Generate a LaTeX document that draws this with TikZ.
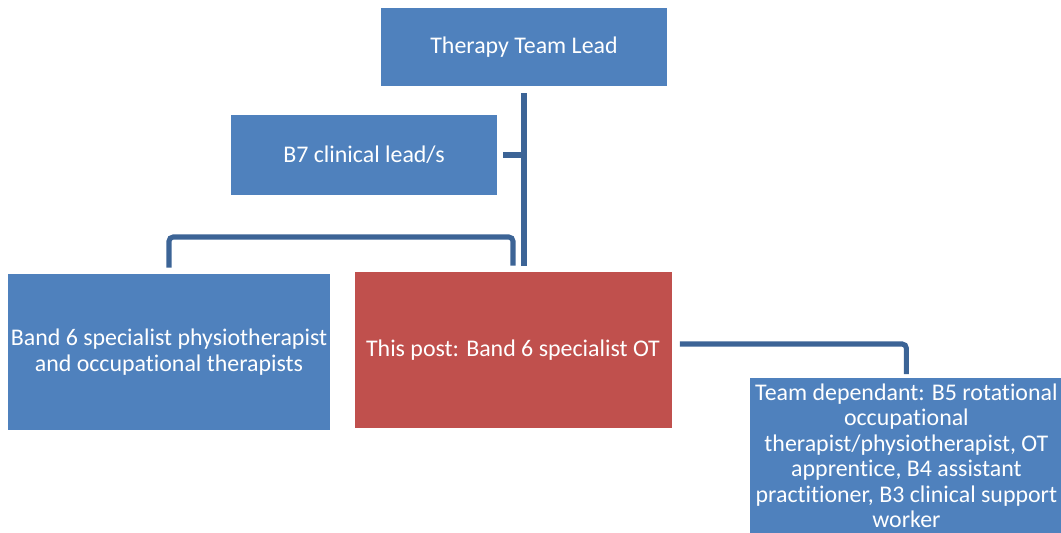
\documentclass[tikz,border=0pt]{standalone}
\usepackage{fontspec}
\setmainfont[Ligatures={NoCommon}]{Carlito}
\definecolor{BoxBlue}{RGB}{79, 129, 189}
\definecolor{BoxRed}{RGB}{192, 80, 77}
\definecolor{LinkBlue}{RGB}{60, 100, 150}
\usetikzlibrary{positioning, calc}

\begin{document}
\begin{tikzpicture}[
        box/.style={rectangle, fill=BoxBlue, text=white, inner sep=2pt, align=center,
            font=\fontsize{17pt}{18.5pt}\selectfont},
        link/.style={draw=LinkBlue, line width=3.6pt}]

        \useasboundingbox (0,0) rectangle (26.525,-13.3);

        % Therapy team lead
        \node[box, minimum width=7.15cm, minimum height=1.95cm] (lead) at (13.1,-1.175) {Therapy Team Lead};

        % Clinical lead
        \node[box, minimum width=6.65cm, minimum height=2cm] (clin) at (9.1,-3.875) {B7 clinical lead/s};

        % Band 6 colleagues
        \node[box, minimum width=7.925cm, minimum height=3.9cm] (band) at (4.225,-8.8) {Band 6 specialist physiotherapist\\and occupational therapists};

        % This post
        \node[box, fill=BoxRed, minimum width=7.925cm, minimum height=3.9cm] (post) at (12.825,-8.75) {This post: Band 6 specialist OT};

        % Team dependant
        \node[box, minimum width=7.825cm, inner ysep=3.8pt, text depth=0.8cm, anchor=north,
            font=\fontsize{17pt}{18.1pt}\selectfont] (team) at (22.66,-9.45) {Team dependant: B5 rotational\\occupational\\therapist/physiotherapist, OT\\apprentice, B4 assistant\\practitioner, B3 clinical support\\worker};

        % Connectors
        \coordinate (bar) at (12.825,-5.925);
        \draw[link] ([yshift=-0.175cm]lead.south) -- ([yshift=0.15cm]post.north -| lead.south);
        \draw[link] ([xshift=0.15cm]clin.east) -- (clin.east -| lead.south);
        \draw[link, rounded corners=3pt] ([yshift=0.15cm]band.north) |- (bar) -- ([yshift=0.15cm]post.north);
        \draw[link, rounded corners=3pt] ([xshift=0.2cm, yshift=0.15cm]post.east) -| ([yshift=0.1cm]team.north);

    \end{tikzpicture}
\end{document}
